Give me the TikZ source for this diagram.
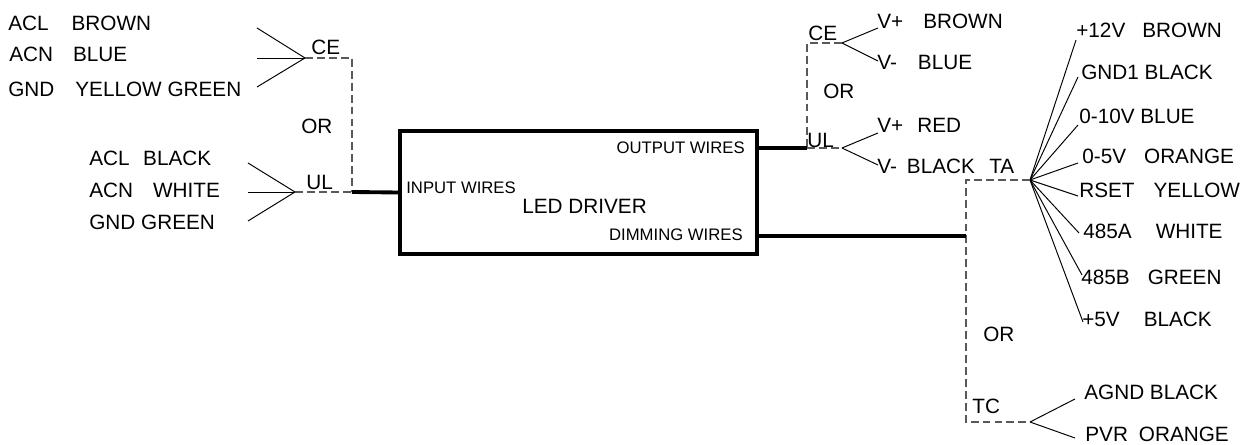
\documentclass[tikz,border=0pt]{standalone}
\usepackage{fontspec}
\setmainfont{Liberation Sans}
\begin{document}
\begin{tikzpicture}[x=0.02cm,y=-0.02cm,
  lbl/.style={anchor=west,inner sep=0pt,text depth=0pt,font=\fontsize{11.8}{14}\selectfont},
  sm/.style={inner sep=0pt,text depth=0pt,font=\fontsize{9.5}{11}\selectfont},
  wire/.style={line width=2.2pt},
  alt/.style={black!65,line width=0.8pt,dash pattern=on 4.5pt off 2.3pt},
  fan/.style={line width=0.55pt}]
\useasboundingbox (0,0) rectangle (1248,445);
% driver box
\node[draw,line width=2.2pt,minimum width=7.14cm,minimum height=2.46cm,inner sep=0pt] (drv) at (578.5,192.5) {};
\node[sm,anchor=west] (inw) at (406,188) {INPUT WIRES};
\node[lbl] (led) at (522,206) {LED DRIVER};
\node[sm,anchor=east] (outw) at (745,148) {OUTPUT WIRES};
\node[sm,anchor=east] (dimw) at (743,235) {DIMMING WIRES};
\coordinate (drvout) at (757,148);
\coordinate (drvdim) at (757,236);
%
% input side
\node[lbl] (acl1) at (8,23) {ACL\hspace{0.46cm}BROWN};
\node[lbl] (acn1) at (9,54) {ACN\hspace{0.40cm}BLUE};
\node[lbl] (gnd1) at (8,89) {GND\hspace{0.42cm}YELLOW GREEN};
\node[lbl] (ce1) at (311,47) {CE};
\node[lbl] (or1) at (301,126) {OR};
\node[lbl] (acl2) at (89,158) {ACL\hspace{0.27cm}BLACK};
\node[lbl] (acn2) at (89,190) {ACN\hspace{0.40cm}WHITE};
\node[lbl] (gnd2) at (89,222) {GND GREEN};
\node[lbl] (ul1) at (306,182) {UL};
\coordinate (jce1) at (305,58);
\coordinate (jul1) at (295,192);
\coordinate (in1) at (352,192);
\foreach \n/\y in {a/28,b/58,c/87} \coordinate (fce1\n) at (257,\y);
\foreach \n/\y in {a/163,b/192,c/221} \coordinate (ful1\n) at (248,\y);
\foreach \n in {a,b,c} {
  \draw[fan] (fce1\n) -- (jce1);
  \draw[fan] (ful1\n) -- (jul1);
}
\draw[alt] (jce1) -| (in1);
\draw[alt] (jul1) -- (in1);
\draw[wire] (in1) -- (drv.west);
%
% output side
\node[lbl] (ce2) at (808,33) {CE};
\node[lbl] (vp1) at (877,21) {V+\hspace{0.40cm}BROWN};
\node[lbl] (vm1) at (877,62) {V-\hspace{0.42cm}BLUE};
\node[lbl] (or2) at (823,91) {OR};
\node[lbl] (ul2) at (807,140) {UL};
\node[lbl] (vp2) at (877,125) {V+\hspace{0.28cm}RED};
\node[lbl] (vm2) at (877,166) {V-\hspace{0.20cm}BLACK};
\coordinate (jce2) at (842,43);
\coordinate (jul2) at (842,148);
\coordinate (out1) at (807,148);
\foreach \n/\y in {a/28,b/61} \coordinate (fce2\n) at (878,\y);
\foreach \n/\y in {a/133,b/165} \coordinate (ful2\n) at (878,\y);
\foreach \n in {a,b} {
  \draw[fan] (jce2) -- (fce2\n);
  \draw[fan] (jul2) -- (ful2\n);
}
\draw[alt] (jce2) -| (out1);
\draw[alt] (out1) -- (jul2);
\draw[wire] (drvout) -- (out1);
%
% dimming side
\node[lbl] (ta) at (989,166) {TA};
\node[lbl] (p12) at (1076,30) {+12V\hspace{0.34cm}BROWN};
\node[lbl] (g1) at (1081,72) {GND1 BLACK};
\node[lbl] (v10) at (1079,116) {0-10V BLUE};
\node[lbl] (v5) at (1082,156) {0-5V\hspace{0.36cm}ORANGE};
\node[lbl] (rset) at (1079,190) {RSET\hspace{0.38cm}YELLOW};
\node[lbl] (a485) at (1083,231) {485A\hspace{0.48cm}WHITE};
\node[lbl] (b485) at (1081,277) {485B\hspace{0.36cm}GREEN};
\node[lbl] (p5) at (1082,319) {+5V\hspace{0.48cm}BLACK};
\node[lbl] (or3) at (983,334) {OR};
\node[lbl] (tc) at (972,406) {TC};
\node[lbl] (agnd) at (1084,392) {AGND BLACK};
\node[lbl] (pvr) at (1085,434) {PVR\hspace{0.22cm}ORANGE};
\coordinate (jta) at (1030,180);
\coordinate (jtc) at (1030,422);
\coordinate (dim) at (966,236);
\foreach \n/\x/\y in {a/1076/40,b/1078/77,c/1078/125,d/1078/163,e/1078/196,f/1079/233,g/1082/275,h/1083/322}
  \coordinate (fta\n) at (\x,\y);
\foreach \n in {a,b,c,d,e,f,g,h} \draw[fan] (jta) -- (fta\n);
\coordinate (ftca) at (1075,399);
\coordinate (ftcb) at (1075,438);
\draw[fan] (jtc) -- (ftca);
\draw[fan] (jtc) -- (ftcb);
\draw[alt] (jta) -| (dim) |- (jtc);
\draw[wire] (drvdim) -- (dim);
\end{tikzpicture}
\end{document}
